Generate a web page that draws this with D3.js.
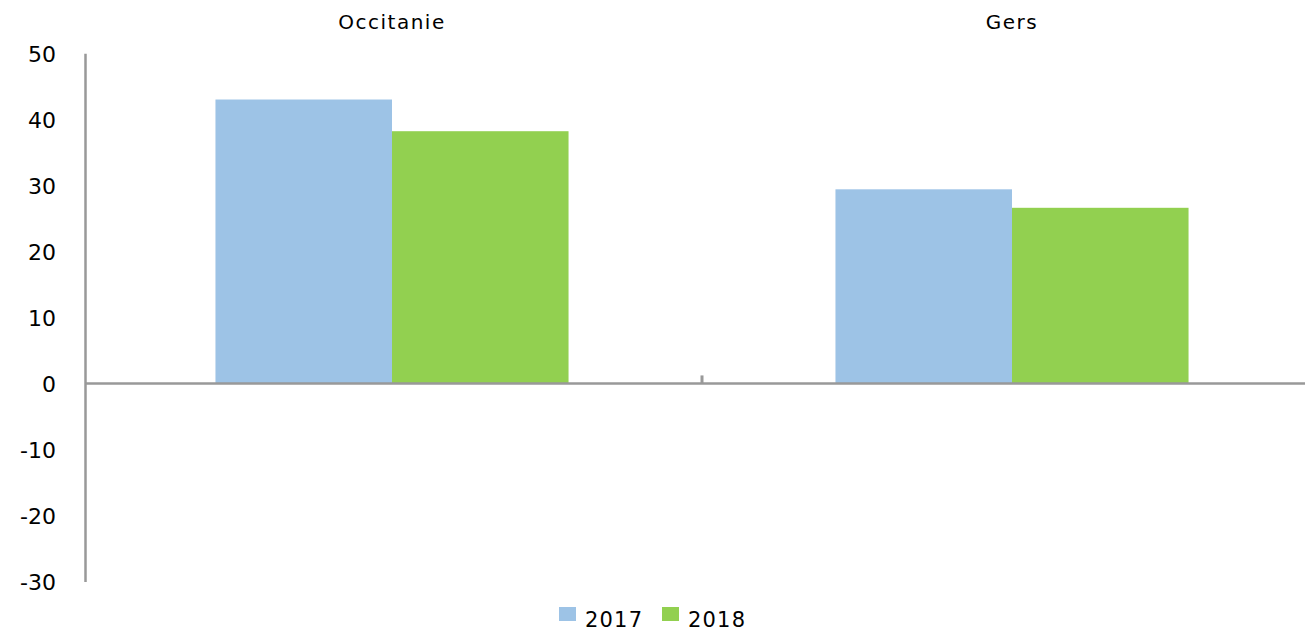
<!DOCTYPE html>
<html>
<head>
<meta charset="utf-8">
<script src="https://cdn.jsdelivr.net/npm/d3@7"></script>
<style>
  html, body { margin: 0; padding: 0; background: #fff; }
  svg { display: block; font-family: "DejaVu Sans", sans-serif; }
</style>
</head>
<body>
<div id="chart"></div>
<script>
// chart data
const regions = ['Occitanie', 'Gers'];
const years = ['2017', '2018'];
const values2017 = [43.0, 29.4];
const values2018 = [38.2, 26.6];
const yTicks = [50, 40, 30, 20, 10, 0, -10, -20, -30];
const colors = ['#9dc3e6', '#92d050'];

const width = 1305, height = 631;
const series = [values2017, values2018];

const svg = d3.select('#chart').append('svg')
    .attr('width', width)
    .attr('height', height);

const x = d3.scaleBand()
    .domain(regions)
    .range([82, 1322]);

const xInner = d3.scaleBand()
    .domain(years)
    .range([0, x.bandwidth()])
    .paddingOuter(0.756)
    .paddingInner(0);

const y = d3.scaleLinear()
    .domain([-30, 50])
    .range([581.5, 53.3]);

// bars
regions.forEach((r, i) => {
    years.forEach((yr, j) => {
        const v = series[j][i];
        svg.append('rect')
            .attr('x', x(r) + xInner(yr))
            .attr('y', y(Math.max(v, 0)))
            .attr('width', xInner.bandwidth())
            .attr('height', Math.abs(y(v) - y(0)))
            .attr('fill', colors[j]);
    });
});

// y axis (plain hyphen for negatives, like the original)
const yAxis = d3.axisLeft(y)
    .tickValues(yTicks)
    .tickFormat(d => String(d))
    .tickSize(0)
    .tickPadding(29);

const gy = svg.append('g')
    .attr('transform', 'translate(85,0)')
    .call(yAxis);
gy.select('.domain').attr('stroke', '#999').attr('stroke-width', 2.5);
gy.selectAll('text')
    .attr('font-size', '22px')
    .attr('font-family', '"DejaVu Sans", sans-serif')
    .attr('fill', '#000')
    .attr('dy', '0.36em');

// x axis at zero, tick between categories
svg.append('line')
    .attr('x1', 85).attr('x2', width)
    .attr('y1', y(0)).attr('y2', y(0))
    .attr('stroke', '#999')
    .attr('stroke-width', 2.5);

svg.append('line')
    .attr('x1', x('Gers')).attr('x2', x('Gers'))
    .attr('y1', y(0)).attr('y2', y(0) - 8)
    .attr('stroke', '#999')
    .attr('stroke-width', 3);

// category labels at top
svg.selectAll('.cat')
    .data(regions)
    .enter().append('text')
    .attr('class', 'cat')
    .attr('x', d => x(d) + x.bandwidth() / 2)
    .attr('y', 29)
    .attr('text-anchor', 'middle')
    .attr('font-size', '20px')
    .attr('letter-spacing', '1.5px')
    .attr('fill', '#000')
    .text(d => d);

// legend
const legendX = [559, 662];
years.forEach((yr, j) => {
    svg.append('rect')
        .attr('x', legendX[j])
        .attr('y', 607)
        .attr('width', 17)
        .attr('height', 14)
        .attr('fill', colors[j]);
    svg.append('text')
        .attr('x', legendX[j] + 26)
        .attr('y', 627)
        .attr('font-size', '21px')
        .attr('letter-spacing', '1.2px')
        .attr('fill', '#000')
        .text(yr);
});
</script>
</body>
</html>
